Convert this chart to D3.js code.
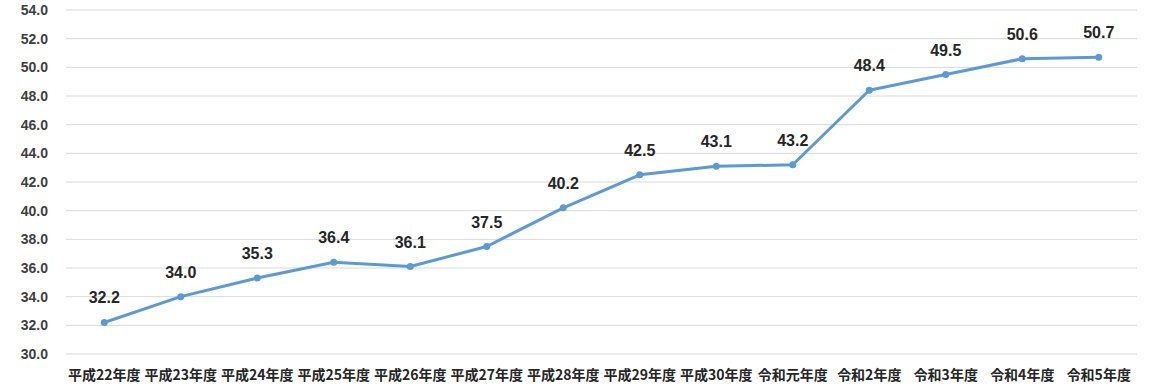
<!DOCTYPE html>
<html lang="ja">
<head>
<meta charset="UTF-8">
<title>Chart</title>
<script src="https://d3js.org/d3.v7.min.js"></script>
<style>
  body { margin: 0; background: #fff; }
  svg { display: block; font-family: "Liberation Sans", "Noto Sans CJK JP", sans-serif; }
</style>
</head>
<body>
<div id="chart"></div>
<script>
// categories and values
const categories = ["平成22年度", "平成23年度", "平成24年度", "平成25年度", "平成26年度", "平成27年度",
  "平成28年度", "平成29年度", "平成30年度", "令和元年度", "令和2年度", "令和3年度", "令和4年度", "令和5年度"];
const values = [32.2, 34.0, 35.3, 36.4, 36.1, 37.5, 40.2, 42.5, 43.1, 43.2, 48.4, 49.5, 50.6, 50.7];
const yTicks = [30, 32, 34, 36, 38, 40, 42, 44, 46, 48, 50, 52, 54];

const width = 1166, height = 387;
const margin = { top: 10, right: 29, bottom: 33, left: 66 };

const svg = d3.select("#chart").append("svg")
  .attr("width", width)
  .attr("height", height);

const x = d3.scaleBand()
  .domain(categories)
  .range([margin.left, width - margin.right]);

const y = d3.scaleLinear()
  .domain([30, 54])
  .range([height - margin.bottom, margin.top]);

// gridlines
svg.append("g")
  .selectAll("line")
  .data(yTicks)
  .enter().append("line")
  .attr("x1", margin.left)
  .attr("x2", width - margin.right)
  .attr("y1", d => y(d))
  .attr("y2", d => y(d))
  .attr("stroke", "#d9d9d9")
  .attr("stroke-width", 1);

// y axis labels
const yAxis = svg.append("g")
  .attr("transform", `translate(${margin.left - 18},0)`)
  .call(d3.axisLeft(y).tickValues(yTicks).tickFormat(d3.format(".1f")).tickSize(0).tickPadding(0));
yAxis.select(".domain").remove();
yAxis.selectAll("text")
  .attr("font-size", 14)
  .attr("font-weight", "bold")
  .attr("fill", "#404040")
  .attr("font-family", "Liberation Sans, sans-serif");

// x axis labels
const xAxis = svg.append("g")
  .attr("transform", `translate(0,${height - margin.bottom + 16})`)
  .call(d3.axisBottom(x).tickSize(0).tickPadding(0));
xAxis.select(".domain").remove();
xAxis.selectAll("text")
  .attr("font-size", 14)
  .attr("font-weight", "bold")
  .attr("fill", "#262626")
  .attr("font-family", "Noto Sans CJK JP, sans-serif");

const cx = d => x(d) + x.bandwidth() / 2;
const pts = categories.map((c, i) => ({ c, v: values[i] }));

// line
svg.append("path")
  .datum(pts)
  .attr("fill", "none")
  .attr("stroke", "#5b9bd5")
  .attr("stroke-width", 3)
  .attr("stroke-linejoin", "round")
  .attr("d", d3.line().x(d => cx(d.c)).y(d => y(d.v)));

// markers
svg.append("g")
  .selectAll("circle")
  .data(pts)
  .enter().append("circle")
  .attr("cx", d => cx(d.c))
  .attr("cy", d => y(d.v))
  .attr("r", 3.5)
  .attr("fill", "#5b9bd5");

// data labels
svg.append("g")
  .selectAll("text")
  .data(pts)
  .enter().append("text")
  .attr("x", d => cx(d.c))
  .attr("y", d => y(d.v) - 19)
  .attr("text-anchor", "middle")
  .attr("font-size", 16)
  .attr("font-weight", "bold")
  .attr("fill", "#262626")
  .text(d => d.v.toFixed(1));
</script>
</body>
</html>
